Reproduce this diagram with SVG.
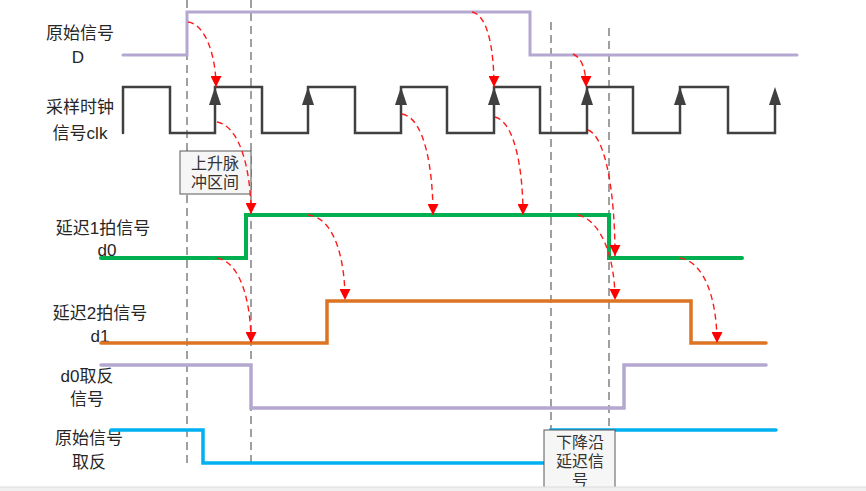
<svg xmlns="http://www.w3.org/2000/svg" width="866" height="491" viewBox="0 0 866 491">
<style>
.lbl{font-family:"Liberation Sans","Noto Sans CJK SC",sans-serif;font-size:17px;fill:#262626;text-anchor:middle}
.box{fill:#f6f6f6;stroke:#595959;stroke-width:1}
.boxt{font-family:"Liberation Sans","Noto Sans CJK SC",sans-serif;font-size:16px;fill:#333;text-anchor:middle}
.vd{stroke:#404040;stroke-width:1;stroke-dasharray:8 5;fill:none}
.sig{fill:none;stroke-linejoin:miter;stroke-linecap:round}
.ra{fill:none;stroke:#ff1a1a;stroke-width:1.4;stroke-dasharray:6 4;marker-end:url(#rh)}
.ca{fill:#404040}
</style>
<defs>
<marker id="rh" viewBox="0 0 10 10" refX="10" refY="5" markerWidth="12" markerHeight="11" markerUnits="userSpaceOnUse" orient="auto">
<path d="M0,0 L10,5 L0,10 z" fill="#ff0000"/>
</marker>
</defs>
<rect width="866" height="491" fill="#ffffff"/>

<g id="guides">
<line class="vd" x1="187" y1="0" x2="187" y2="468"/>
<line class="vd" x1="251" y1="0" x2="251" y2="468"/>
<line class="vd" x1="551" y1="22" x2="551" y2="488"/>
<line class="vd" x1="609" y1="28" x2="609" y2="488"/>
</g>

<g id="labels">
<text class="lbl" x="80" y="39">原始信号</text>
<text class="lbl" x="78" y="63">D</text>
<text class="lbl" x="80" y="113">采样时钟</text>
<text class="lbl" x="80" y="139">信号clk</text>
<text class="lbl" x="103" y="234">延迟1拍信号</text>
<text class="lbl" x="107" y="256">d0</text>
<text class="lbl" x="100" y="319">延迟2拍信号</text>
<text class="lbl" x="100" y="342">d1</text>
<text class="lbl" x="87" y="382">d0取反</text>
<text class="lbl" x="87" y="405">信号</text>
<text class="lbl" x="89" y="444">原始信号</text>
<text class="lbl" x="89" y="468">取反</text>
</g>

<g id="signal-D">
<path class="sig" d="M123,55 H187 V12 H530 V55 H797" stroke="#b4a7d0" stroke-width="3"/>
</g>

<g id="signal-clk">
<path class="sig" d="M123,133 V87 H170 V133 H215 V87 H262 V133 H308 V87 H355 V133 H401 V87 H447 V133 H494 V87 H540 V133 H587 V87 H633 V133 H680 V87 H728 V133 H775 V95" stroke="#404040" stroke-width="2.5" stroke-linecap="butt"/>
<polygon class="ca" points="215,87 209,105 221,105"/>
<polygon class="ca" points="308,87 302,105 314,105"/>
<polygon class="ca" points="401,87 395,105 407,105"/>
<polygon class="ca" points="494,87 488,105 500,105"/>
<polygon class="ca" points="587,87 581,105 593,105"/>
<polygon class="ca" points="680,87 674,105 686,105"/>
<polygon class="ca" points="775,87 769,105 781,105"/>
</g>

<g id="signal-d0">
<path class="sig" d="M101,258 H246 V215 H609 V258 H742" stroke="#00b050" stroke-width="4"/>
</g>

<g id="signal-d1">
<path class="sig" d="M101,343 H327 V301 H691 V343 H766" stroke="#dc7424" stroke-width="3.5"/>
</g>

<g id="signal-d0n">
<path class="sig" d="M101,365 H251 V408 H624 V365 H766" stroke="#b4a7d0" stroke-width="3.5"/>
</g>

<g id="signal-Dn">
<path class="sig" d="M111,430 H203 V463 H551 V430 H776" stroke="#00b0f0" stroke-width="3.5"/>
</g>

<g id="box-rise">
<rect class="box" x="180" y="151" width="71" height="43"/>
<text class="boxt" x="215" y="169">上升脉</text>
<text class="boxt" x="215" y="188">冲区间</text>
</g>

<g id="box-fall">
<rect class="box" x="544" y="430" width="71" height="62"/>
<text class="boxt" x="580" y="448">下降沿</text>
<text class="boxt" x="580" y="467">延迟信</text>
<text class="boxt" x="580" y="486">号</text>
</g>

<g id="connectors">
<path class="ra" d="M188,22 C205,24 216,55 216,87"/>
<path class="ra" d="M217,122 C240,126 251,170 251,214"/>
<path class="ra" d="M217,258 C240,262 251,300 251,343"/>
<path class="ra" d="M308,215 C335,218 345,260 345,300"/>
<path class="ra" d="M402,114 C425,118 433,170 433,215"/>
<path class="ra" d="M495,117 C515,122 523,170 523,215"/>
<path class="ra" d="M472,12 C488,15 494,50 494,87"/>
<path class="ra" d="M573,54 C582,58 586,70 586,87"/>
<path class="ra" d="M588,130 C605,136 615,190 615,256"/>
<path class="ra" d="M578,215 C600,220 615,255 615,300"/>
<path class="ra" d="M680,258 C705,262 717,300 717,343"/>
</g>

<rect x="0" y="487" width="866" height="4" fill="#f0f0f0"/>
<line x1="0" y1="487" x2="866" y2="487" stroke="#dcdcdc" stroke-width="1"/>
</svg>
